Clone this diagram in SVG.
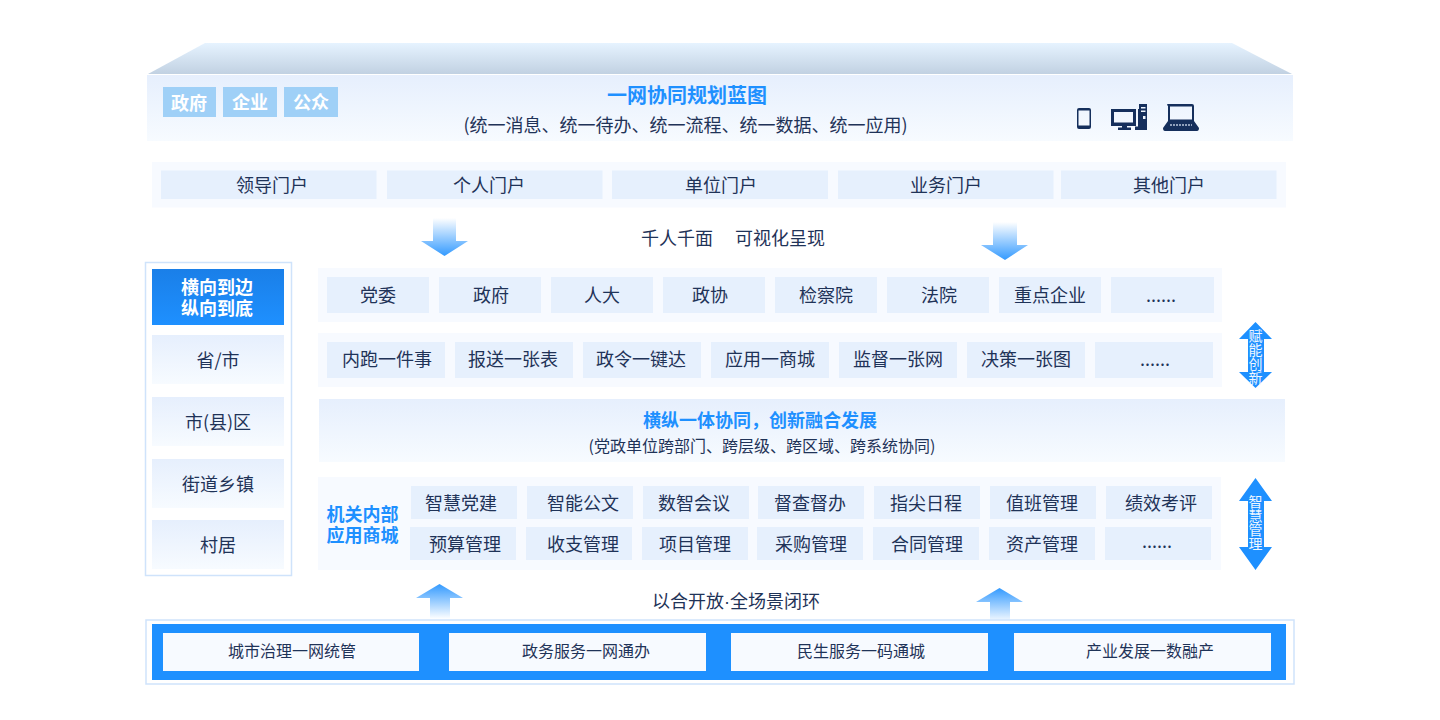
<svg xmlns="http://www.w3.org/2000/svg" width="1440" height="720" viewBox="0 0 1440 720">
<style>
text{font-family:"Noto Sans CJK SC","Liberation Sans",sans-serif;text-anchor:middle;fill:#1f3358}
.t18{font-size:18px}.t16{font-size:16px}
.b{font-weight:700}.blue{fill:#1e90ff}.w{fill:#fff}
.soft{fill:#f7faff}.cell{fill:#e6f0fd}.grad{fill:url(#panel)}
.chip{fill:#9fd0f7}.ic{fill:#152f5c}
.vt{font-size:14px;fill:#eef7ff;writing-mode:vertical-rl}
.dot{font-family:"Liberation Sans",sans-serif}
</style>
<defs>
<linearGradient id="roof" x1="0" y1="0" x2="0" y2="1"><stop offset="0" stop-color="#e6f3ff"/><stop offset="1" stop-color="#c1d1e2"/></linearGradient>
<linearGradient id="panel" x1="0" y1="0" x2="0" y2="1"><stop offset="0" stop-color="#e6effd"/><stop offset="1" stop-color="#f7fbff"/></linearGradient>
<linearGradient id="head" x1="0" y1="0" x2="0" y2="1"><stop offset="0" stop-color="#1a7fe8"/><stop offset="1" stop-color="#1e90ff"/></linearGradient>
<linearGradient id="down" x1="0" y1="0" x2="0" y2="1"><stop offset="0" stop-color="#ffffff"/><stop offset="1" stop-color="#339aff"/></linearGradient>
<linearGradient id="up" x1="0" y1="1" x2="0" y2="0"><stop offset="0" stop-color="#ffffff"/><stop offset="1" stop-color="#339aff"/></linearGradient>
</defs>

<g id="top-panel">
<path d="M148 74L205 43H1232L1292 74Z" fill="url(#roof)"/>
<rect class="grad" x="147" y="75" width="1146" height="66"/>
<rect class="chip" x="163" y="87" width="53" height="30"/><text class="t18 b w" x="189" y="110">政府</text>
<rect class="chip" x="223" y="87" width="54" height="30"/><text class="t18 b w" x="250" y="109">企业</text>
<rect class="chip" x="284" y="87" width="54" height="30"/><text class="t18 b w" x="311" y="109">公众</text>
<text class="b blue" font-size="20" x="687" y="103">一网协同规划蓝图</text>
<text class="t18" x="685.500" y="132">(统一消息、统一待办、统一流程、统一数据、统一应用)</text>
</g>

<g id="device-icons">
<path class="ic" fill-rule="evenodd" d="M1079 108H1089Q1091 108 1091 110V127Q1091 129 1089 129H1079Q1077 129 1077 127V110Q1077 108 1079 108ZM1078.500 110.500V125.500H1089.500V110.500Z"/>
<path class="ic" fill-rule="evenodd" d="M1111 109H1136V126H1127V127.500H1131V130H1118V127.500H1122V126H1111ZM1114 112V122.500H1133V112Z"/>
<path class="ic" fill-rule="evenodd" d="M1139 104H1147V130H1135V126.500H1138V109H1139ZM1141 107V108.500H1145.500V107ZM1141 110.500V112H1145.500V110.500ZM1143 116V119H1145.500V116Z"/>
<path class="ic" fill-rule="evenodd" d="M1168 104H1192Q1194 104 1194 106V121L1199 128Q1199 131 1197 131H1165Q1163 131 1163 128L1168 121V106Q1166 104 1168 104ZM1170 106.500V119.500H1192V106.500Z"/>
<path d="M1170 125H1192" stroke="#b8c6da" stroke-width="1.500" stroke-dasharray="2 1"/>
</g>

<g id="portals">
<rect class="soft" x="152" y="162" width="1134" height="45.500"/>
<rect class="cell" x="161" y="170.500" width="215.500" height="28.500"/><text class="t18" x="272" y="192">领导门户</text>
<rect class="cell" x="387" y="170.500" width="215.500" height="28.500"/><text class="t18" x="489" y="192">个人门户</text>
<rect class="cell" x="612" y="170.500" width="216" height="28.500"/><text class="t18" x="721" y="192">单位门户</text>
<rect class="cell" x="838" y="170.500" width="215.500" height="28.500"/><text class="t18" x="946" y="192">业务门户</text>
<rect class="cell" x="1061" y="170.500" width="215.500" height="28.500"/><text class="t18" x="1169" y="192">其他门户</text>
</g>

<g id="connectors">
<path fill="url(#down)" d="M433 218H456V241H468L444.500 256L421 241H433Z"/>
<path fill="url(#down)" d="M993 222H1017V245H1028L1005 260L981 245H993Z"/>
<path fill="url(#up)" d="M439.500 584L463 598H450V619H430V598H416Z"/>
<path fill="url(#up)" d="M999.500 588L1023 602H1010V623H990V602H976Z"/>
<path fill="#1e90ff" d="M1255.500 322L1272 339H1264V372H1272L1255.500 388L1239 372H1248V339H1239Z"/>
<path fill="#1e90ff" d="M1255.500 478L1272 501H1264V547H1272L1255.500 570L1239 547H1248V501H1239Z"/>
</g>

<text class="t18" x="677" y="245">千人千面</text>
<text class="t18" x="780" y="245">可视化呈现</text>
<text class="t18" x="736" y="608">以合开放<tspan class="dot">·</tspan>全场景闭环</text>

<g id="levels">
<rect x="145.500" y="262.500" width="146" height="313" fill="#fff" stroke="#cfe3fb" stroke-width="1.500"/>
<rect x="152" y="269" width="132" height="56" fill="url(#head)"/>
<text class="t18 b w" x="217" y="294">横向到边<tspan x="217" dy="21">纵向到底</tspan></text>
<rect class="grad" x="152" y="335" width="132" height="49"/><text class="t18" x="218" y="367">省/市</text>
<rect class="grad" x="152" y="397" width="132" height="49"/><text class="t18" x="218" y="429">市(县)区</text>
<rect class="grad" x="152" y="459" width="132" height="49"/><text class="t18" x="218" y="491">街道乡镇</text>
<rect class="grad" x="152" y="520" width="132" height="49"/><text class="t18" x="218" y="552">村居</text>
</g>

<g id="row-orgs">
<rect class="soft" x="318" y="268" width="904" height="54"/>
<rect class="cell" x="327" y="277" width="102" height="36"/><text class="t18" x="378" y="302">党委</text>
<rect class="cell" x="439" y="277" width="102" height="36"/><text class="t18" x="491" y="302">政府</text>
<rect class="cell" x="551" y="277" width="102" height="36"/><text class="t18" x="602" y="302">人大</text>
<rect class="cell" x="663" y="277" width="102" height="36"/><text class="t18" x="710" y="302">政协</text>
<rect class="cell" x="775" y="277" width="102" height="36"/><text class="t18" x="826" y="302">检察院</text>
<rect class="cell" x="887" y="277" width="102" height="36"/><text class="t18" x="939" y="302">法院</text>
<rect class="cell" x="999" y="277" width="102" height="36"/><text class="t18" x="1050" y="302">重点企业</text>
<rect class="cell" x="1111" y="277" width="103" height="36"/><text class="t18" x="1161" y="302">......</text>
</g>

<g id="row-apps">
<rect class="soft" x="318" y="333" width="904" height="54"/>
<rect class="cell" x="327" y="342" width="118" height="36"/><text class="t18" x="387" y="366">内跑一件事</text>
<rect class="cell" x="455" y="342" width="118" height="36"/><text class="t18" x="513" y="366">报送一张表</text>
<rect class="cell" x="583" y="342" width="118" height="36"/><text class="t18" x="641" y="366">政令一键达</text>
<rect class="cell" x="711" y="342" width="118" height="36"/><text class="t18" x="770" y="366">应用一商城</text>
<rect class="cell" x="839" y="342" width="118" height="36"/><text class="t18" x="898" y="366">监督一张网</text>
<rect class="cell" x="967" y="342" width="118" height="36"/><text class="t18" x="1026" y="366">决策一张图</text>
<rect class="cell" x="1095" y="342" width="118" height="36"/><text class="t18" x="1155" y="366">......</text>
</g>

<g id="band">
<rect class="grad" x="319" y="399" width="966" height="63"/>
<text class="t18 b blue" x="760" y="427">横纵一体协同，创新融合发展</text>
<text class="t16" x="762" y="452">(党政单位跨部门、跨层级、跨区域、跨系统协同)</text>
</g>

<g id="internal-apps">
<rect class="soft" x="318" y="477" width="903" height="93"/>
<text class="t18 b blue" x="362.500" y="521">机关内部<tspan x="362.500" dy="21">应用商城</tspan></text>
<rect class="cell" x="411" y="486" width="106" height="33"/><text class="t18" x="461" y="510">智慧党建</text>
<rect class="cell" x="527" y="486" width="106" height="33"/><text class="t18" x="583" y="510">智能公文</text>
<rect class="cell" x="643" y="486" width="106" height="33"/><text class="t18" x="694" y="510">数智会议</text>
<rect class="cell" x="758" y="486" width="106" height="33"/><text class="t18" x="810" y="510">督查督办</text>
<rect class="cell" x="874" y="486" width="106" height="33"/><text class="t18" x="926" y="510">指尖日程</text>
<rect class="cell" x="990" y="486" width="106" height="33"/><text class="t18" x="1042" y="510">值班管理</text>
<rect class="cell" x="1106" y="486" width="106" height="33"/><text class="t18" x="1161" y="510">绩效考评</text>
<rect class="cell" x="410" y="527" width="106" height="33"/><text class="t18" x="465" y="551">预算管理</text>
<rect class="cell" x="526" y="527" width="106" height="33"/><text class="t18" x="583" y="551">收支管理</text>
<rect class="cell" x="642" y="527" width="106" height="33"/><text class="t18" x="695" y="551">项目管理</text>
<rect class="cell" x="757" y="527" width="106" height="33"/><text class="t18" x="811" y="551">采购管理</text>
<rect class="cell" x="873" y="527" width="106" height="33"/><text class="t18" x="927" y="551">合同管理</text>
<rect class="cell" x="989" y="527" width="106" height="33"/><text class="t18" x="1042" y="551">资产管理</text>
<rect class="cell" x="1105" y="527" width="106" height="33"/><text class="t18" x="1157" y="548">......</text>
</g>

<g id="side-labels">
<text class="vt" x="1255.500" y="357">赋能创新</text>
<text class="vt" x="1255.500" y="523">智慧管理</text>
</g>

<g id="foundation">
<rect x="146" y="620" width="1148" height="64" fill="#fff" stroke="#cfe3fb" stroke-width="1.500"/>
<rect x="152" y="624" width="1134" height="56" fill="#1e90ff"/>
<rect class="soft" x="163" y="633" width="256" height="38"/><text class="t16" x="292" y="657">城市治理一网统管</text>
<rect class="soft" x="449" y="633" width="257" height="38"/><text class="t16" x="586" y="657">政务服务一网通办</text>
<rect class="soft" x="731" y="633" width="257" height="38"/><text class="t16" x="861" y="657">民生服务一码通城</text>
<rect class="soft" x="1014" y="633" width="257" height="38"/><text class="t16" x="1150" y="657">产业发展一数融产</text>
</g>
</svg>
